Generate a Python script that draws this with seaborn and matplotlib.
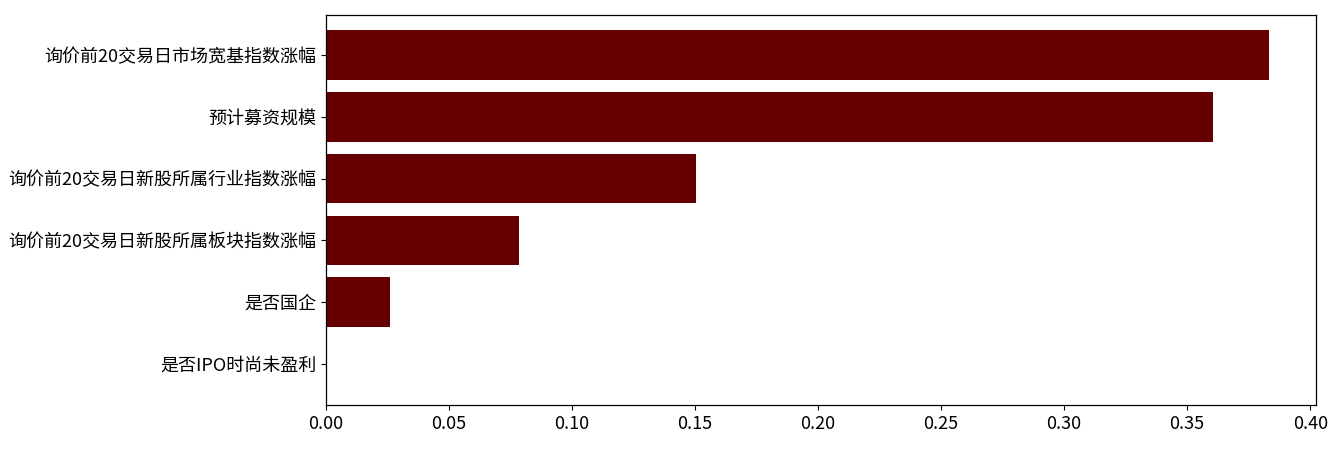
import matplotlib
matplotlib.use("Agg")
import matplotlib.pyplot as plt
import seaborn as sns
import pandas as pd

features = [
    "询价前20交易日市场宽基指数涨幅",
    "预计募资规模",
    "询价前20交易日新股所属行业指数涨幅",
    "询价前20交易日新股所属板块指数涨幅",
    "是否国企",
    "是否IPO时尚未盈利",
]
importance = [0.3832, 0.3607, 0.1505, 0.0783, 0.0261, 0.0]

plt.rcParams["font.family"] = ["Noto Sans CJK SC", "DejaVu Sans"]
plt.rcParams["axes.unicode_minus"] = False

df = pd.DataFrame({"feature": features, "importance": importance})

fig, ax = plt.subplots(figsize=(13.35, 4.5), dpi=100)
fig.subplots_adjust(left=326 / 1335, right=1316 / 1335, top=1 - 15 / 450, bottom=1 - 405 / 450)

sns.barplot(data=df, x="importance", y="feature", orient="h", color="#660000",
            saturation=1, width=0.8, ax=ax)
ax.set_xlim(0, max(importance) * 1.05)
ax.set_ylim(5.67, -0.65)
ax.set_xticks([0.0, 0.05, 0.10, 0.15, 0.20, 0.25, 0.30, 0.35, 0.40])
ax.set_xticklabels([f"{t:.2f}" for t in ax.get_xticks()])
ax.set_xlabel("")
ax.set_ylabel("")
ax.tick_params(axis="both", labelsize=13, colors="black")
for s in ax.spines.values():
    s.set_visible(True)
    s.set_color("black")
    s.set_linewidth(0.9)

fig.savefig("out.png", dpi=100)
